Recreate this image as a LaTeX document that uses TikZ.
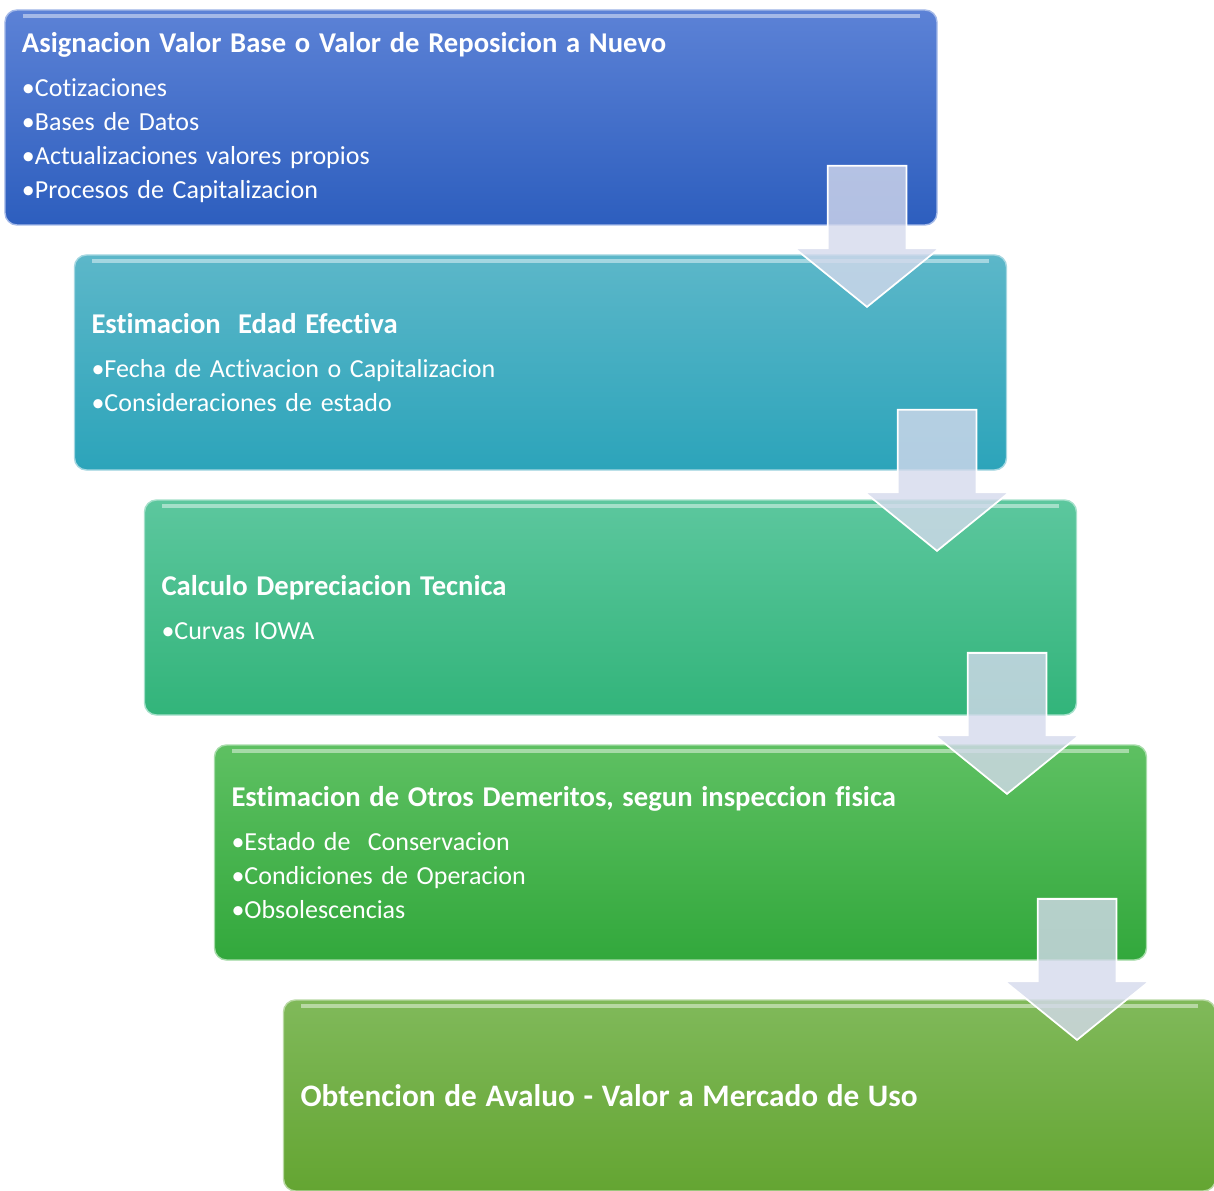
\documentclass[tikz,border=0pt]{standalone}
\usepackage{fontspec}
\setmainfont{Carlito}[Ligatures=NoCommon]
\usetikzlibrary{shapes.arrows}

\definecolor{azulA}{RGB}{92,130,214}
\definecolor{azulB}{RGB}{45,94,190}
\definecolor{tealA}{RGB}{92,183,201}
\definecolor{tealB}{RGB}{44,164,186}
\definecolor{mentaA}{RGB}{92,199,158}
\definecolor{mentaB}{RGB}{50,180,122}
\definecolor{verdeA}{RGB}{94,192,98}
\definecolor{verdeB}{RGB}{50,168,60}
\definecolor{olivaA}{RGB}{128,185,90}
\definecolor{olivaB}{RGB}{100,165,50}
\definecolor{flecha}{RGB}{212,217,236}

\tikzset{
  stage/.style n args={2}{rectangle, rounded corners=0.24cm, top color=#1, bottom color=#2,
    draw=#1!55!white, line width=0.8pt, text=white, minimum width=18.64cm, minimum height=4.3cm,
    text width=17.96cm, inner xsep=0.34cm, align=left, font=\fontsize{14.8}{19.3}\selectfont,
    path picture={\draw[white, opacity=0.45, line width=2.5pt]
      ([xshift=0.35cm,yshift=-0.12cm]path picture bounding box.north west) --
      ([xshift=-0.35cm,yshift=-0.12cm]path picture bounding box.north east);}},
  downarrow/.style={single arrow, rotate=-90, anchor=tip, minimum height=2.82cm,
    single arrow head extend=0.66cm, single arrow head indent=0cm, single arrow tip angle=102,
    inner xsep=0pt, inner ysep=0.77cm, fill=flecha, fill opacity=0.8, draw=white, line width=1pt}
}

\begin{document}
\begin{tikzpicture}
  \useasboundingbox (0,0) rectangle (24.28,-23.82);

  \node[stage={azulA}{azulB}](n1)at(9.42,-2.35){{\bfseries\fontsize{16.3}{19.3}\selectfont Asignacion Valor Base o Valor de Reposicion a Nuevo}\\[5.7pt]
    •Cotizaciones\\ •Bases de Datos\\ •Actualizaciones valores propios\\ •Procesos de Capitalizacion};
  \node[stage={tealA}{tealB}](n2)at(10.81,-7.25){{\bfseries\fontsize{16.3}{19.3}\selectfont Estimacion\ \ Edad Efectiva}\\[5.7pt]
    •Fecha de Activacion o Capitalizacion\\ •Consideraciones de estado};
  \node[stage={mentaA}{mentaB}](n3)at(12.21,-12.15){{\bfseries\fontsize{16.3}{19.3}\selectfont Calculo Depreciacion Tecnica}\\[5.7pt]
    •Curvas IOWA};
  \node[stage={verdeA}{verdeB}](n4)at(13.61,-17.05){{\bfseries\fontsize{16.3}{19.3}\selectfont Estimacion de Otros Demeritos, segun inspeccion fisica}\\[5.7pt]
    •Estado de\ \ Conservacion\\ •Condiciones de Operacion\\ •Obsolescencias};
  \node[stage={olivaA}{olivaB},minimum height=3.82cm](n5)at(14.99,-21.91){{\bfseries\fontsize{17.8}{21}\selectfont Obtencion de Avaluo - Valor a Mercado de Uso}};

  % flechas entre etapas (punta en el cuadro siguiente)
  \node[downarrow](a1)at(17.34,-6.16){};
  \node[downarrow](a2)at(18.74,-11.04){};
  \node[downarrow](a3)at(20.14,-15.90){};
  \node[downarrow](a4)at(21.54,-20.82){};
\end{tikzpicture}
\end{document}
